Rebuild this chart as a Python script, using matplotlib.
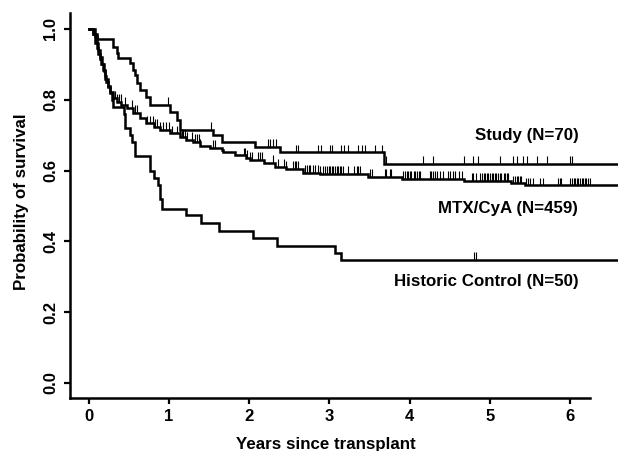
import numpy as np
import matplotlib
matplotlib.use("Agg")
import matplotlib.pyplot as plt

plt.rcParams['font.family'] = ['Liberation Sans', 'DejaVu Sans']
plt.rcParams['font.weight'] = 'bold'

# survival curves (time in years, survival after the step)
study_t = [0, 0.06, 0.10, 0.31, 0.35, 0.37, 0.52, 0.56, 0.58, 0.60, 0.64, 0.72, 0.76,
           1.01, 1.10, 1.14, 1.55, 1.66, 2.07, 2.38, 3.68]
study_s = [1.0, 0.986, 0.972, 0.95, 0.931, 0.917, 0.903, 0.884, 0.870, 0.847, 0.828, 0.809, 0.785,
           0.766, 0.743, 0.715, 0.70, 0.682, 0.667, 0.651, 0.618]
study_cens = [0.99, 1.53, 2.24, 2.26, 2.30, 2.33, 2.59, 2.61, 2.86, 2.90, 3.01, 3.03, 3.15, 3.18,
              3.23, 3.36, 3.40, 3.44, 3.57, 3.65, 3.71, 4.17, 4.29, 4.68, 4.79, 4.85, 5.12, 5.29,
              5.33, 5.41, 5.46, 5.58, 5.71, 6.00, 6.02]

mtx_t = [0, 0.05, 0.08, 0.10, 0.12, 0.14, 0.16, 0.18, 0.20, 0.22, 0.245, 0.27, 0.31, 0.35, 0.41,
         0.48, 0.56, 0.64, 0.72, 0.81, 0.89, 1.01, 1.14, 1.22, 1.30, 1.39, 1.51, 1.66, 1.68, 1.82,
         1.96, 2.01, 2.18, 2.32, 2.46, 2.67, 2.88, 3.48, 3.90, 4.67, 5.26, 5.43]
mtx_s = [1.0, 0.985, 0.96, 0.945, 0.93, 0.915, 0.90, 0.885, 0.868, 0.851, 0.835, 0.823, 0.804, 0.795, 0.785,
         0.776, 0.762, 0.748, 0.733, 0.724, 0.715, 0.705, 0.696, 0.687, 0.68, 0.668, 0.664, 0.658, 0.651, 0.643,
         0.635, 0.630, 0.622, 0.611, 0.604, 0.594, 0.590, 0.583, 0.576, 0.571, 0.564, 0.558]
mtx_cens = [0.31, 0.33, 0.35, 0.38, 0.40, 0.45, 0.54, 0.58, 0.60, 0.73, 0.77, 0.80, 0.83, 0.85, 0.89,
            0.93, 0.97, 1.00, 1.04, 1.10, 1.14, 1.16, 1.18, 1.20, 1.23, 1.29, 1.33, 1.35, 1.37, 1.39,
            1.55, 1.58, 1.93, 1.95, 1.97, 2.01, 2.03, 2.11, 2.14, 2.16, 2.30, 2.36, 2.43, 2.46, 2.55,
            2.57, 2.59, 2.61, 2.70, 2.72, 2.74, 2.76, 2.80, 2.82, 2.86, 2.88, 2.92, 2.95, 2.97, 2.99,
            3.01, 3.03, 3.05, 3.07, 3.09, 3.11, 3.13, 3.15, 3.17, 3.23, 3.30, 3.34, 3.36, 3.38, 3.50,
            3.53, 3.69, 3.71, 3.75, 3.77, 3.92, 3.94, 3.96, 3.98, 4.00, 4.02, 4.05, 4.07, 4.09, 4.11,
            4.13, 4.25, 4.27, 4.29, 4.32, 4.34, 4.38, 4.42, 4.48, 4.50, 4.54, 4.56, 4.62, 4.65, 4.77,
            4.79, 4.83, 4.87, 4.90, 4.92, 4.94, 4.96, 4.98, 5.00, 5.02, 5.04, 5.06, 5.08, 5.10, 5.12,
            5.14, 5.17, 5.19, 5.21, 5.23, 5.29, 5.31, 5.33, 5.35, 5.37, 5.39, 5.45, 5.47, 5.50, 5.54,
            5.62, 5.66, 5.85, 5.87, 5.89, 6.00, 6.02, 6.04, 6.06, 6.08, 6.10, 6.12, 6.14, 6.16, 6.18,
            6.20, 6.22, 6.24]

hc_t = [0, 0.08, 0.10, 0.12, 0.14, 0.17, 0.19, 0.21, 0.24, 0.27, 0.29, 0.31, 0.44, 0.46, 0.52,
        0.54, 0.58, 0.76, 0.82, 0.87, 0.89, 0.91, 1.22, 1.40, 1.63, 2.05, 2.35, 3.07, 3.15]
hc_s = [1.0, 0.98, 0.96, 0.94, 0.92, 0.90, 0.88, 0.86, 0.84, 0.82, 0.80, 0.78, 0.76, 0.72, 0.70,
        0.68, 0.64, 0.60, 0.58, 0.56, 0.52, 0.492, 0.474, 0.452, 0.43, 0.41, 0.388, 0.368, 0.347]
hc_cens = [4.80, 4.82]

labels = ["Study (N=70)", "MTX/CyA (N=459)", "Historic Control (N=50)"]
label_y = [0.70, 0.493, 0.286]

x_end = 6.594

fig = plt.figure(figsize=(6.2, 4.51), dpi=100)
ax = fig.add_axes([69.5 / 620, 1 - 398 / 451, (618 - 69.5) / 620, (398 - 13) / 451])

for t, s, c in [(study_t, study_s, study_cens), (mtx_t, mtx_s, mtx_cens), (hc_t, hc_s, hc_cens)]:
    tt = np.append(t, x_end)
    ss = np.append(s, s[-1])
    ax.step(tt, ss, where='post', color='black', lw=1.8, solid_joinstyle='miter')
    c = np.array(c)
    idx = np.searchsorted(t, c, side='right') - 1
    cs = np.array(s)[idx]
    ax.vlines(c, cs, cs + 0.022, color='black', lw=0.8)

for lab, y in zip(labels, label_y):
    ax.text(6.10, y, lab, ha='right', va='center', fontsize=12.2, fontweight='bold')

ax.set_xlim(-0.237, x_end)
ax.set_ylim(-0.0424, 1.045)
ax.set_xticks([0, 1, 2, 3, 4, 5, 6])
ax.set_yticks([0.0, 0.2, 0.4, 0.6, 0.8, 1.0])
ax.set_yticklabels(["0.0", "0.2", "0.4", "0.6", "0.8", "1.0"])
ax.spines['top'].set_visible(False)
ax.spines['right'].set_visible(False)
ax.spines['left'].set_linewidth(1.8)
ax.spines['bottom'].set_linewidth(1.8)
ax.spines['bottom'].set_bounds(-0.237, 6.25)
ax.tick_params(length=4, width=1.6, labelsize=12, pad=4)
ax.tick_params(axis='y', labelrotation=90)
for lab in ax.get_yticklabels():
    lab.set_va('center')
    lab.set_fontweight('bold')
for lab in ax.get_xticklabels():
    lab.set_fontweight('bold')

fig.text(326 / 620, 0.005, "Years since transplant", ha='center', va='baseline',
         fontsize=12.2, fontweight='bold')
fig.text(22 / 620, 1 - 202 / 451, "Probability of survival", ha='center', va='center',
         rotation=90, fontsize=12.2, fontweight='bold')

fig.savefig("out.png", dpi=100)
